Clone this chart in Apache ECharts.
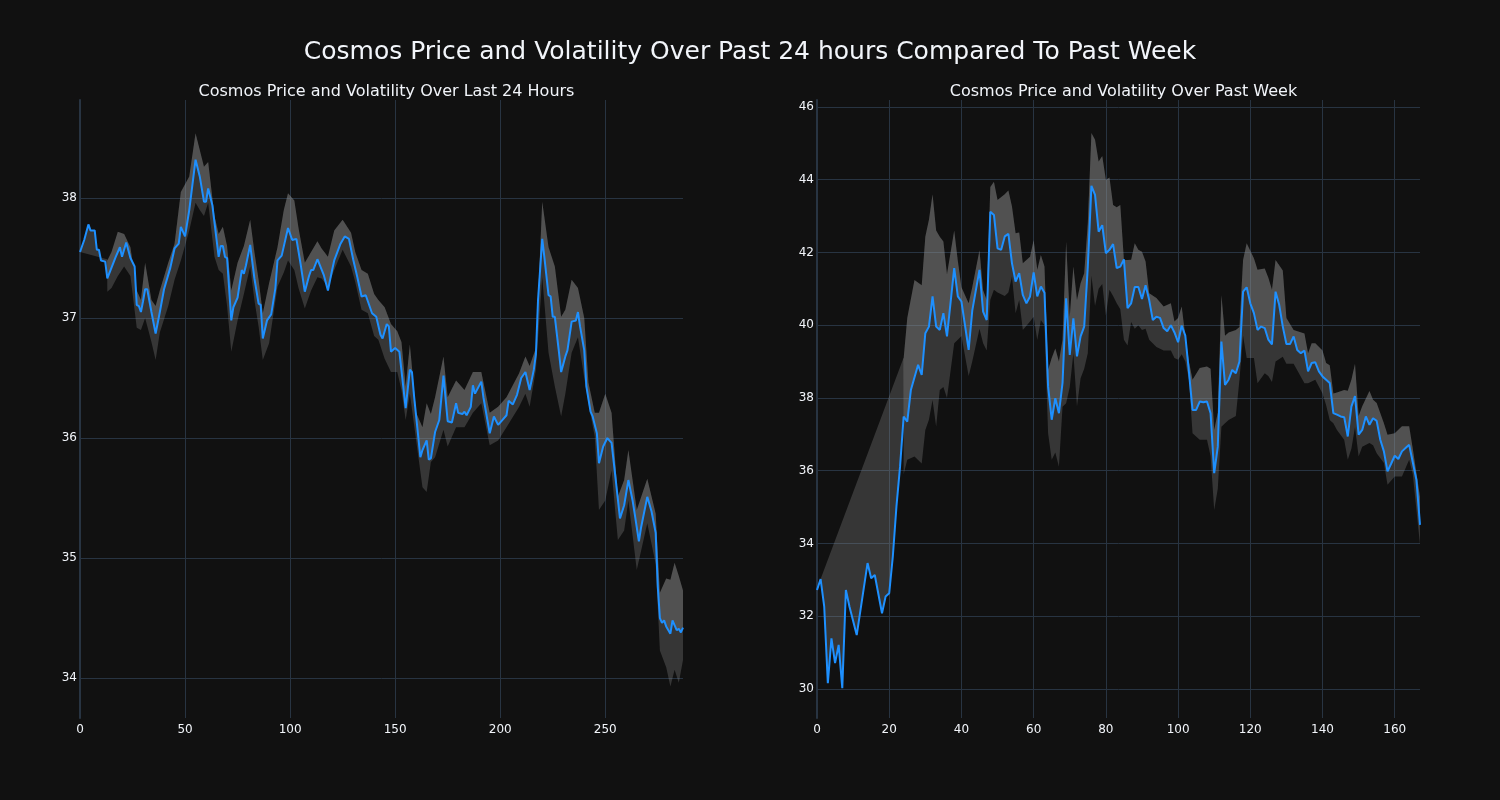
<!DOCTYPE html>
<html>
<head>
<meta charset="utf-8">
<script src="https://cdn.jsdelivr.net/npm/echarts@6/dist/echarts.min.js"></script>
<style>
html,body{margin:0;padding:0;background:#111111;}
#chart{width:1500px;height:800px;}
</style>
</head>
<body>
<div id="chart"></div>
<script>
// ---------- Last 24 hours (5-minute steps) ----------
const dayPriceIdx = [0,2,4,5,7,8,9,10,12,13,15,17,19,20,22,24,26,27,28,29,30,31,32,34,36,38,40,43,45,47,48,50,52,55,57,59,60,61,63,66,67,68,69,70,72,73,75,77,78,79,81,83,85,86,87,89,91,93,94,96,99,101,103,105,107,109,110,111,113,116,118,120,121,124,126,128,130,132,134,136,139,141,143,144,146,147,148,150,152,155,157,158,159,162,163,165,166,167,169,171,173,175,177,179,180,182,183,184,186,187,188,191,192,195,197,199,201,203,204,206,208,210,212,214,216,217,218,220,221,223,224,225,226,228,229,231,232,234,236,237,238,240,241,243,244,246,247,249,251,253,255,257,259,261,263,264,266,267,270,272,274,275,276,277,278,279,281,282,284,285,286,287];
const dayPriceVal = [37.55,37.65,37.78,37.73,37.73,37.57,37.57,37.48,37.47,37.33,37.42,37.51,37.59,37.51,37.63,37.50,37.43,37.11,37.10,37.05,37.14,37.24,37.24,37.05,36.87,37.05,37.24,37.42,37.58,37.62,37.76,37.68,37.90,38.32,38.18,37.97,37.97,38.08,37.94,37.51,37.60,37.60,37.51,37.50,36.98,37.09,37.17,37.40,37.37,37.44,37.61,37.33,37.12,37.11,36.83,36.98,37.03,37.25,37.48,37.52,37.75,37.65,37.66,37.45,37.22,37.35,37.40,37.40,37.49,37.36,37.23,37.40,37.48,37.62,37.68,37.66,37.49,37.34,37.18,37.19,37.04,37.01,36.86,36.83,36.95,36.93,36.72,36.75,36.72,36.25,36.57,36.55,36.35,35.84,35.90,35.98,35.82,35.83,36.05,36.15,36.52,36.14,36.13,36.29,36.21,36.20,36.22,36.19,36.26,36.44,36.37,36.47,36.34,36.04,36.18,36.11,36.15,36.19,36.31,36.28,36.36,36.50,36.55,36.40,36.57,36.70,37.15,37.66,37.51,37.19,37.18,37.01,37.01,36.71,36.55,36.68,36.73,36.97,36.98,37.05,36.93,36.73,36.43,36.22,36.18,36.04,35.79,35.93,36.00,35.96,35.65,35.33,35.44,35.65,35.48,35.37,35.14,35.25,35.51,35.39,35.21,34.76,34.50,34.46,34.48,34.43,34.37,34.48,34.40,34.41,34.38,34.42];
const dayBandIdx = [0,12.9,13,15,18,21,24,27,29,31,34,36,38,42,45,48,52,55,57,59,61,64,66,68,70,72,75,78,81,83,85,87,90,94,97,99,102,104,107,110,113,115,118,121,125,129,131,134,137,140,142,145,148,151,153,155,157,160,163,165,167,169,173,175,179,183,187,191,195,199,203,209,212,214,217,220,223,226,229,231,234,237,240,242,245,247,250,253,256,259,261,265,270,274,276,279,281,283,285,287];
const dayUpper = [37.55,37.49,37.48,37.55,37.72,37.70,37.59,37.23,37.15,37.46,37.15,37.10,37.23,37.46,37.62,38.05,38.18,38.54,38.40,38.26,38.30,37.85,37.70,37.76,37.60,37.23,37.46,37.60,37.82,37.55,37.32,37.04,37.29,37.59,37.90,38.04,37.98,37.75,37.46,37.55,37.64,37.58,37.51,37.73,37.82,37.71,37.55,37.40,37.37,37.20,37.15,37.09,36.95,36.89,36.80,36.43,36.78,36.21,36.09,36.29,36.20,36.34,36.68,36.34,36.48,36.40,36.55,36.55,36.21,36.26,36.34,36.54,36.68,36.60,36.75,37.97,37.59,37.43,37.01,37.07,37.32,37.25,37.00,36.46,36.21,36.21,36.37,36.21,35.51,35.65,35.90,35.40,35.66,35.37,34.71,34.83,34.82,34.96,34.85,34.73];
const dayLower = [37.55,37.49,37.22,37.25,37.35,37.43,37.35,36.92,36.90,37.00,36.80,36.65,36.88,37.10,37.32,37.48,37.73,37.96,37.90,37.85,37.96,37.51,37.40,37.37,37.10,36.72,36.98,37.20,37.43,37.15,36.93,36.65,36.79,37.26,37.38,37.48,37.40,37.25,37.08,37.23,37.34,37.33,37.26,37.40,37.57,37.43,37.30,37.07,37.04,36.85,36.82,36.66,36.55,36.55,36.40,36.15,36.37,35.98,35.59,35.55,35.80,35.84,36.07,35.93,36.09,36.09,36.21,36.29,35.94,35.98,36.09,36.26,36.37,36.26,36.57,37.34,36.71,36.43,36.18,36.37,36.71,36.84,36.50,36.29,36.01,35.40,35.48,35.73,35.15,35.23,35.48,34.90,35.29,34.95,34.23,34.09,33.93,34.07,33.96,34.15];
const dayXTicks = [0,50,100,150,200,250];
const dayYTicks = [34,35,36,37,38];

// ---------- Past week (hourly steps) ----------
const weekPriceIdx = [0,1,2,3,4,5,6,7,8,9,11,14,15,16,18,19,20,21,22,23,24,25,26,28,29,30,31,32,33,34,35,36,38,39,40,42,43,45,46,47,48,49,50,51,52,53,54,55,56,57,58,59,60,61,62,63,64,65,66,67,68,69,70,71,72,73,74,75,76,77,78,79,80,81,82,83,84,85,86,87,88,89,90,91,92,93,94,95,96,97,98,99,100,101,102,103,104,105,106,107,108,109,110,111,112,113,114,115,116,117,118,119,120,121,122,123,124,125,126,127,128,129,130,131,132,133,134,135,136,137,138,139,140,142,143,144,145,146,147,148,149,150,151,152,153,154,155,156,157,158,159,160,161,162,163,164,166,167];
const weekPriceVal = [32.72,33.02,32.26,30.16,31.39,30.71,31.21,30.02,32.72,32.26,31.48,33.46,33.04,33.13,32.08,32.54,32.63,33.64,35.01,36.11,37.49,37.35,38.22,38.91,38.63,39.78,39.96,40.79,39.96,39.87,40.33,39.69,41.57,40.79,40.65,39.32,40.40,41.52,40.37,40.14,43.12,43.03,42.11,42.07,42.44,42.51,41.70,41.20,41.43,40.83,40.60,40.79,41.45,40.79,41.06,40.89,38.31,37.40,37.99,37.58,38.41,40.74,39.18,40.19,39.14,39.69,39.96,41.61,43.83,43.58,42.57,42.75,41.98,42.07,42.23,41.57,41.61,41.81,40.47,40.60,41.05,41.05,40.72,41.10,40.69,40.14,40.23,40.20,39.92,39.83,40.00,39.80,39.53,39.99,39.71,38.72,37.67,37.67,37.90,37.88,37.90,37.58,35.93,36.66,39.55,38.36,38.50,38.77,38.68,39.00,40.92,41.04,40.60,40.33,39.87,39.96,39.92,39.60,39.47,40.92,40.56,39.96,39.48,39.48,39.69,39.32,39.23,39.30,38.73,38.96,38.98,38.73,38.59,38.41,37.58,37.54,37.49,37.47,36.94,37.76,38.05,36.99,37.12,37.49,37.26,37.44,37.37,36.85,36.53,35.98,36.19,36.41,36.32,36.53,36.62,36.71,35.75,34.51];
const weekBandIdx = [1,23.9,24,25,27,29,30,31,32,33,34,35,36,38,39,40,42,43,45,46,47,48,49,50,52,53,54,55,56,57,59,60,61,62,63,64,65,66,67,68,69,70,71,72,73,74,75,76,77,78,79,80,81,82,83,84,85,86,87,88,89,90,91,92,94,96,98,99,100,101,102,103,104,106,108,109,110,111,112,113,114,116,117,118,119,121,122,124,125,126,127,129,130,132,135,136,137,138,140,141,142,143,144,146,147,148,149,150,151,153,154,155,157,158,160,162,164,165,167];
const weekUpper = [33.02,39.08,39.10,40.20,41.24,41.10,42.43,42.90,43.60,42.60,42.43,42.30,41.40,42.60,41.77,41.04,40.60,41.04,42.06,40.96,40.69,43.80,43.94,43.44,43.60,43.70,43.26,42.53,42.55,41.70,41.88,42.34,41.52,41.93,41.61,38.77,39.10,39.36,39.00,39.60,42.30,40.23,41.61,40.69,41.15,41.43,42.80,45.28,45.10,44.50,44.65,44.00,44.06,43.30,43.24,43.30,41.79,41.79,41.80,42.25,42.07,42.02,41.75,40.88,40.75,40.51,40.60,40.10,40.20,40.51,39.71,39.00,38.50,38.82,38.86,38.80,37.12,37.60,40.83,39.71,39.80,39.87,39.95,41.79,42.25,41.84,41.52,41.56,41.30,40.97,41.79,41.50,40.20,39.87,39.77,39.23,39.50,39.50,39.30,38.96,38.90,38.12,38.15,38.22,38.20,38.50,38.94,37.50,37.77,38.19,37.95,37.86,37.30,36.99,37.03,37.22,37.22,36.60,35.28];
const weekLower = [33.02,39.08,35.90,36.30,36.39,36.20,37.12,37.40,37.94,37.21,38.22,38.30,38.00,39.50,39.60,39.70,38.60,39.00,39.90,39.50,39.30,40.70,40.97,40.90,40.80,40.90,41.34,40.33,40.69,39.87,40.10,40.23,39.59,40.14,40.00,37.03,36.30,36.50,36.11,37.76,37.85,38.30,39.23,37.76,38.54,38.80,39.23,41.36,40.53,41.00,41.13,40.26,40.97,40.80,40.60,40.44,39.60,39.44,40.09,39.90,40.00,39.87,39.90,39.60,39.40,39.30,39.30,39.10,39.05,39.20,39.00,38.50,37.03,36.85,36.85,36.40,34.92,35.50,37.21,37.30,37.39,37.50,38.50,39.71,39.10,39.10,38.40,38.68,38.60,38.44,39.00,39.13,38.94,38.94,38.40,38.40,38.45,38.50,38.12,37.80,37.39,37.30,37.12,36.85,36.30,36.60,37.20,36.39,36.66,36.76,36.70,36.48,36.21,35.61,35.84,35.84,36.30,35.90,33.96];
const weekXTicks = [0,20,40,60,80,100,120,140,160];
const weekYTicks = [30,32,34,36,38,40,42,44,46];

// ---------- chart ----------
const BG = '#111111', GRID = '#283442', TXT = '#f2f5fa', LINE = '#1e90ff', BAND = 'rgba(150,150,150,0.28)';
const FONT = '"DejaVu Sans", sans-serif';

function pairs(xs, ys) { return xs.map((x, i) => [x, ys[i]]); }
function bandData(xs, up, lo) { return xs.map((x, i) => [x, up[i], lo[i]]); }

function bandRenderer(px, pv, bx, bu, bl) {
  return function (params, api) {
    if (params.dataIndex !== 0) return null;
    const pts = (xs, ys) => xs.map((x, i) => api.coord([x, ys[i]]));
    const price = pts(px, pv), up = pts(bx, bu), lo = pts(bx, bl);
    return {
      type: 'group',
      children: [
        { type: 'polygon', shape: { points: price.concat(up.slice().reverse()) }, style: { fill: BAND } },
        { type: 'polygon', shape: { points: up.concat(lo.slice().reverse()) }, style: { fill: BAND } }
      ]
    };
  };
}

function xAxis(idx, max, ticks) {
  return {
    type: 'value', gridIndex: idx, min: 0, max: max,
    axisLine: { show: false }, axisTick: { show: false, customValues: ticks },
    axisLabel: { customValues: ticks, color: TXT, fontSize: 12, fontFamily: FONT, margin: 6 },
    splitLine: { show: true, lineStyle: { color: GRID, width: 1 } }
  };
}
function yAxis(idx, min, max, ticks) {
  return {
    type: 'value', gridIndex: idx, min: min, max: max,
    axisLine: { show: true, onZero: false, lineStyle: { color: GRID, width: 2 } },
    axisTick: { show: false, customValues: ticks },
    axisLabel: { customValues: ticks, color: TXT, fontSize: 12, fontFamily: FONT, margin: 3 },
    splitLine: { show: true, lineStyle: { color: GRID, width: 1 } }
  };
}

const chart = echarts.init(document.getElementById('chart'), null, { renderer: 'canvas' });
chart.setOption({
  backgroundColor: BG,
  animation: false,
  title: [
    { text: 'Cosmos Price and Volatility Over Past 24 hours Compared To Past Week', left: 'center', top: 35,
      textStyle: { color: TXT, fontSize: 25, fontWeight: 'normal', fontFamily: FONT } },
    { text: 'Cosmos Price and Volatility Over Last 24 Hours', left: 381.5, textAlign: 'center', top: 79,
      textStyle: { color: TXT, fontSize: 16, fontWeight: 'normal', fontFamily: FONT } },
    { text: 'Cosmos Price and Volatility Over Past Week', left: 1118.5, textAlign: 'center', top: 79,
      textStyle: { color: TXT, fontSize: 16, fontWeight: 'normal', fontFamily: FONT } }
  ],
  grid: [
    { left: 80, top: 100, width: 603, height: 618 },
    { left: 817, top: 100, width: 603, height: 618 }
  ],
  xAxis: [xAxis(0, 287, dayXTicks), xAxis(1, 167, weekXTicks)],
  yAxis: [yAxis(0, 33.667, 38.817, dayYTicks), yAxis(1, 29.2, 46.19, weekYTicks)],
  series: [
    { type: 'custom', xAxisIndex: 0, yAxisIndex: 0, clip: true, silent: true,
      renderItem: bandRenderer(dayPriceIdx, dayPriceVal, dayBandIdx, dayUpper, dayLower),
      data: bandData(dayBandIdx, dayUpper, dayLower), encode: { x: 0, y: [1, 2] }, z: 1 },
    { type: 'line', xAxisIndex: 0, yAxisIndex: 0, data: pairs(dayPriceIdx, dayPriceVal),
      showSymbol: false, lineStyle: { color: LINE, width: 2 }, itemStyle: { color: LINE }, z: 3 },
    { type: 'custom', xAxisIndex: 1, yAxisIndex: 1, clip: true, silent: true,
      renderItem: bandRenderer(weekPriceIdx, weekPriceVal, weekBandIdx, weekUpper, weekLower),
      data: bandData(weekBandIdx, weekUpper, weekLower), encode: { x: 0, y: [1, 2] }, z: 1 },
    { type: 'line', xAxisIndex: 1, yAxisIndex: 1, data: pairs(weekPriceIdx, weekPriceVal),
      showSymbol: false, lineStyle: { color: LINE, width: 2 }, itemStyle: { color: LINE }, z: 3 }
  ]
});
</script>
</body>
</html>
